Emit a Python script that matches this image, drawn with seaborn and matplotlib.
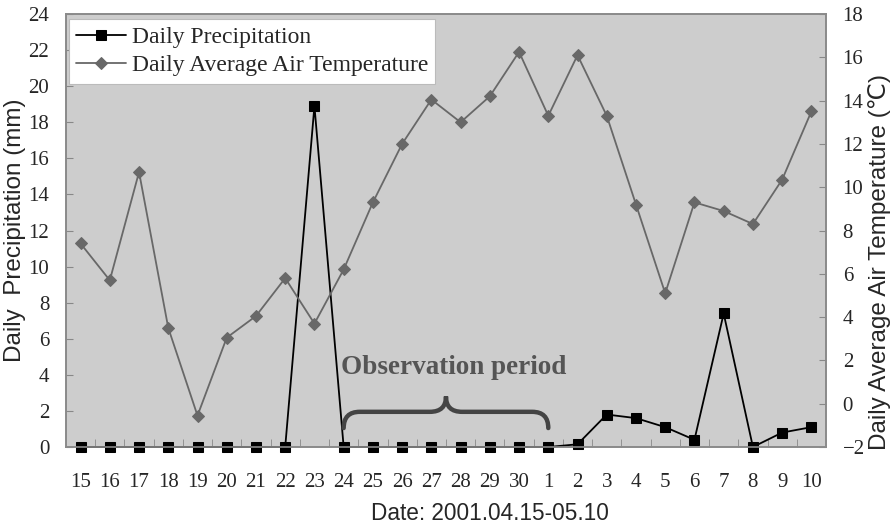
import numpy as np
import pandas as pd
import matplotlib
matplotlib.use("Agg")
import matplotlib.pyplot as plt
from matplotlib.path import Path
from matplotlib.patches import PathPatch
from matplotlib.ticker import FixedLocator
import seaborn as sns

# ---- data ----
days = ["15", "16", "17", "18", "19", "20", "21", "22", "23", "24", "25", "26", "27",
        "28", "29", "30", "1", "2", "3", "4", "5", "6", "7", "8", "9", "10"]
precip = [0, 0, 0, 0, 0, 0, 0, 0, 18.9, 0, 0, 0, 0,
          0, 0, 0, 0, 0.15, 1.8, 1.6, 1.1, 0.4, 7.4, 0, 0.8, 1.1]
temp = [7.4, 5.7, 10.7, 3.5, -0.55, 3.05, 4.05, 5.8, 3.7, 6.2, 9.3, 12.0, 14.05,
        13.0, 14.2, 16.25, 13.3, 16.1, 13.3, 9.2, 5.1, 9.3, 8.9, 8.3, 10.35, 13.5]
left_ticks = [0, 2, 4, 6, 8, 10, 12, 14, 16, 18, 20, 22, 24]
right_ticks = [-2, 0, 2, 4, 6, 8, 10, 12, 14, 16, 18]
obs_start, obs_end = "24", "1"

sns.set_style("white")
plt.rcParams['font.family'] = ['Liberation Serif', 'DejaVu Serif']

df = pd.DataFrame({"pos": np.arange(len(days)), "day": days,
                   "precip": precip, "temp": temp})

fig = plt.figure(figsize=(8.95, 5.27), dpi=100)
ax = fig.add_axes([0.0737, 0.1518, 0.9229 - 0.0737, 0.9734 - 0.1518])
ax.set_facecolor("#cdcdcd")
ax2 = ax.twinx()
ax2.patch.set_visible(False)

sns.lineplot(data=df, x="pos", y="precip", ax=ax, color="black", lw=1.3,
             marker="s", markersize=7, markeredgecolor="black", zorder=3,
             label="Daily Precipitation", legend=False, clip_on=False)
sns.lineplot(data=df, x="pos", y="temp", ax=ax2, color="#686868", lw=1.3,
             marker="D", markersize=6.5, markeredgecolor="#686868", zorder=2,
             label="Daily Average Air Temperature", legend=False, clip_on=False)

ax.set_xlim(-0.5, len(days) - 0.5)
ax.set_ylim(0, 24)
ax2.set_ylim(-2, 18)
ax.set_yticks(left_ticks)
ax2.set_yticks(right_ticks)
ax.set_xticks(df["pos"])
ax.set_xticklabels(days)
ax.xaxis.set_minor_locator(FixedLocator(np.arange(len(days)) + 0.5))

ax.tick_params(axis="x", which="major", length=0, pad=19, labelsize=15)
ax.tick_params(axis="x", which="minor", direction="in", length=6, color="#888888", bottom=True)
ax.tick_params(axis="y", direction="in", length=5, color="#888888", pad=12, labelsize=15)
ax2.tick_params(axis="y", direction="in", length=5, color="#888888", pad=12, labelsize=15)

for a in (ax, ax2):
    for s in a.spines.values():
        s.set_color("#8a8a8a")
        s.set_linewidth(1.2)

sansfam = ['Liberation Sans', 'DejaVu Sans']
ax.set_xlabel("Date: 2001.04.15-05.10", family=sansfam, fontsize=16.3)
ax.xaxis.set_label_coords(0.558, -0.127)
ax.set_ylabel("Daily  Precipitation (mm)", family=sansfam, fontsize=17.5)
ax.yaxis.set_label_coords(-0.052, 0.5)
ax2.set_ylabel("Daily Average Air Temperature (\u2103)", family=sansfam, fontsize=17.5,
               rotation=90)
ax2.yaxis.set_label_coords(1.056, 0.428)

# observation-period brace (left axis data coordinates)
x0 = days.index(obs_start)
x1 = days.index(obs_end)
xc = (x0 + x1) / 2
yb, ym, yp = 1.05, 1.95, 2.8
r = 0.55
verts = [(x0, yb), (x0, ym), (x0 + r, ym),
         (xc - r, ym),
         (xc, ym), (xc, yp),
         (xc, ym), (xc + r, ym),
         (x1 - r, ym),
         (x1, ym), (x1, yb)]
codes = [Path.MOVETO, Path.CURVE3, Path.CURVE3,
         Path.LINETO,
         Path.CURVE3, Path.CURVE3,
         Path.CURVE3, Path.CURVE3,
         Path.LINETO,
         Path.CURVE3, Path.CURVE3]
ax2.add_patch(PathPatch(Path(verts, codes), transform=ax.transData, fill=False,
                        edgecolor="#444444", lw=3.2, capstyle="round", zorder=4))
ax2.text(xc + 0.25, 4.4, "Observation period", transform=ax.transData,
         ha="center", va="center", fontsize=19.5, fontweight="bold", color="#555555")

handles = [ax.get_lines()[0], ax2.get_lines()[0]]
leg = ax2.legend(handles, ["Daily Precipitation", "Daily Average Air Temperature"],
                 loc="upper left", bbox_to_anchor=(0.004, 0.988), borderaxespad=0,
                 fancybox=False, framealpha=1, facecolor="white", edgecolor="#bbbbbb",
                 fontsize=17, handlelength=2.1, labelspacing=0.3, borderpad=0.3,
                 handletextpad=0.25)
leg.get_frame().set_linewidth(0.8)
leg.set_zorder(10)

fig.savefig("out.png", dpi=100)
